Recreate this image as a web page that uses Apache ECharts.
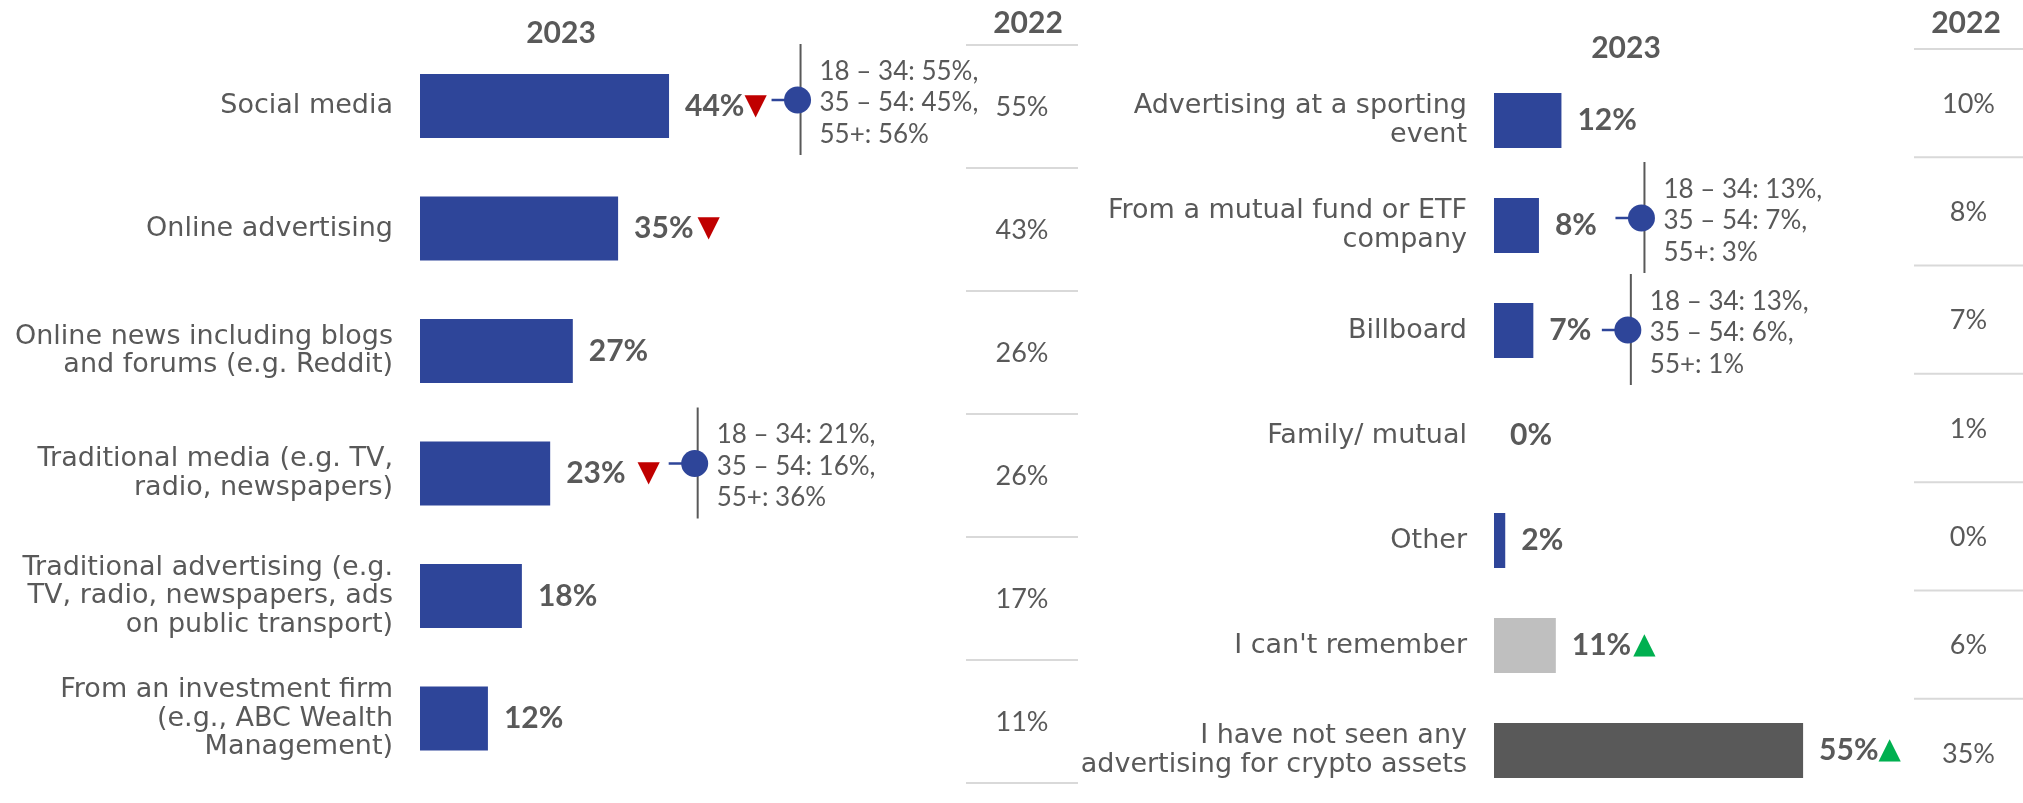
<html>

<head>
    <meta charset="utf-8">
    <title>Crypto advertising seen</title>
    <script src="https://cdn.jsdelivr.net/npm/echarts@6/dist/echarts.min.js"></script>
    <style>
        html, body { margin: 0; padding: 0; background: #fff; }
    </style>
</head>

<body>
    <div id="result" style="width:2023px;height:803px"></div>
    <script>
        // ---- data ----
        var leftCats = [
            'Social media',
            'Online advertising',
            'Online news including blogs\nand forums (e.g. Reddit)',
            'Traditional media (e.g. TV,\nradio, newspapers)',
            'Traditional advertising (e.g.\nTV, radio, newspapers, ads\non public transport)',
            'From an investment firm\n(e.g., ABC Wealth\nManagement)'
        ];
        var left2023 = [44, 35, 27, 23, 18, 12];
        var left2022 = [55, 43, 26, 26, 17, 11];
        var leftChange = ['down', 'down', '', 'down', '', ''];

        var rightCats = [
            'Advertising at a sporting\nevent',
            'From a mutual fund or ETF\ncompany',
            'Billboard',
            'Family/ mutual',
            'Other',
            "I can't remember",
            'I have not seen any\nadvertising for crypto assets'
        ];
        var right2023 = [12, 8, 7, 0, 2, 11, 55];
        var right2022 = [10, 8, 7, 1, 0, 6, 35];
        var rightChange = ['', '', '', '', '', 'up', 'up'];

        // age breakdowns (side 0 = left panel, 1 = right panel)
        var ageNotes = [
            { side: 0, row: 0, lines: ['18 – 34: 55%,', '35 – 54: 45%,', '55+: 56%'] },
            { side: 0, row: 3, lines: ['18 – 34: 21%,', '35 – 54: 16%,', '55+: 36%'] },
            { side: 1, row: 1, lines: ['18 – 34: 13%,', '35 – 54: 7%,', '55+: 3%'] },
            { side: 1, row: 2, lines: ['18 – 34: 13%,', '35 – 54: 6%,', '55+: 1%'] }
        ];

        // ---- styles / layout ----
        var BLUE = '#2E4599';
        var TXT = '#595959';
        var rightColors = [BLUE, BLUE, BLUE, BLUE, BLUE, '#BFBFBF', '#595959'];
        var leftTriGap = [0, 4, 0, 12, 0, 0];
        var rightTriGap = [0, 0, 0, 0, 0, 2, 0];
        // pixel offset of the dot from the bar end
        var noteOffset = [[128.5, -6], [144.5, -10], [102.5, -7.5], [94.5, -0.5]];

        function barLabel(changes, gaps) {
            var rich = {
                v: { fontFamily: 'Lato', fontWeight: 'bold', fontSize: 30, color: TXT }
            };
            changes.forEach(function (c, i) {
                if (c) {
                    rich['t' + i] = {
                        fontFamily: 'DejaVu Sans',
                        fontSize: 29,
                        color: c == 'down' ? '#C00000' : '#00B050',
                        padding: [0, 0, 0, gaps[i]]
                    };
                }
            });
            return {
                show: true,
                position: 'right',
                distance: 16,
                rich: rich,
                formatter: function (p) {
                    var s = '{v|' + p.value + '%}';
                    var c = changes[p.dataIndex];
                    if (c) s += '{t' + p.dataIndex + '|' + (c == 'down' ? '▼' : '▲') + '}';
                    return s;
                }
            };
        }

        function noteSeries(side) {
            var vals = side == 0 ? left2023 : right2023;
            var data = [];
            ageNotes.forEach(function (n, i) {
                if (n.side == side) data.push([vals[n.row], n.row, i]);
            });
            return {
                type: 'custom',
                xAxisIndex: side,
                yAxisIndex: side,
                silent: true,
                z: 5,
                data: data,
                renderItem: function (params, api) {
                    var idx = api.value(2);
                    var p = api.coord([api.value(0), api.value(1)]);
                    var cx = p[0] + noteOffset[idx][0];
                    var cy = p[1] + noteOffset[idx][1];
                    return {
                        type: 'group',
                        children: [{
                            type: 'line',
                            shape: { x1: cx + 3, y1: cy - 56, x2: cx + 3, y2: cy + 55 },
                            style: { stroke: TXT, lineWidth: 2 }
                        }, {
                            type: 'line',
                            shape: { x1: cx - 26, y1: cy, x2: cx, y2: cy },
                            style: { stroke: BLUE, lineWidth: 2.5 }
                        }, {
                            type: 'circle',
                            shape: { cx: cx, cy: cy, r: 13.5 },
                            style: { fill: BLUE }
                        }, {
                            type: 'text',
                            x: cx + 22,
                            y: cy + 3,
                            style: {
                                text: ageNotes[idx].lines.join('\n'),
                                fill: TXT,
                                fontFamily: 'Lato',
                                fontSize: 26,
                                lineHeight: 31.5,
                                align: 'left',
                                verticalAlign: 'middle'
                            }
                        }]
                    };
                }
            };
        }

        // 2022 column: value centred in each row, rule above each row
        function oldSeries(grid, vals, bottomRule) {
            return {
                type: 'custom',
                xAxisIndex: grid,
                yAxisIndex: grid,
                silent: true,
                data: vals.map(function (v, i) { return [0.5, i, v]; }),
                renderItem: function (params, api) {
                    var p = api.coord([api.value(0), api.value(1)]);
                    var band = api.size([0, 1])[1];
                    var x0 = params.coordSys.x;
                    var x1 = x0 + params.coordSys.width;
                    var kids = [{
                        type: 'line',
                        shape: { x1: x0, y1: p[1] - band / 2, x2: x1, y2: p[1] - band / 2 },
                        style: { stroke: '#D9D9D9', lineWidth: 2 }
                    }, {
                        type: 'text',
                        x: p[0],
                        y: p[1] + 1,
                        style: {
                            text: api.value(2) + '%',
                            fill: TXT,
                            fontFamily: 'Lato',
                            fontSize: 27,
                            align: 'center',
                            verticalAlign: 'middle'
                        }
                    }];
                    if (bottomRule && params.dataIndex == vals.length - 1) {
                        kids.push({
                            type: 'line',
                            shape: { x1: x0, y1: p[1] + band / 2, x2: x1, y2: p[1] + band / 2 },
                            style: { stroke: '#D9D9D9', lineWidth: 2 }
                        });
                    }
                    return { type: 'group', children: kids };
                }
            };
        }

        function catAxis(grid, cats, show) {
            return {
                type: 'category',
                gridIndex: grid,
                data: cats,
                inverse: true,
                axisLine: { show: false },
                axisTick: { show: false },
                splitLine: { show: false },
                axisLabel: {
                    show: show,
                    margin: 27,
                    color: TXT,
                    fontFamily: 'DejaVu Sans',
                    fontSize: 27,
                    lineHeight: 28.5,
                    align: 'right'
                }
            };
        }

        function valAxis(grid, max) {
            return {
                type: 'value',
                gridIndex: grid,
                min: 0,
                max: max,
                show: false,
                splitLine: { show: false }
            };
        }

        function header(x, y, text) {
            return {
                type: 'text',
                x: x,
                y: y,
                style: {
                    text: text,
                    fill: TXT,
                    fontFamily: 'Lato',
                    fontWeight: 'bold',
                    fontSize: 30,
                    align: 'center',
                    verticalAlign: 'middle'
                }
            };
        }

        var myChart = echarts.init(document.getElementById('result'));

        var option = {
            backgroundColor: '#fff',
            animation: false,
            grid: [
                { left: 420, top: 44.75, width: 566, height: 735, outerBoundsMode: 'none' },
                { left: 1494, top: 68, width: 337.2, height: 735, outerBoundsMode: 'none' },
                { left: 966, top: 45, width: 112, height: 738, outerBoundsMode: 'none' },
                { left: 1914, top: 49, width: 109, height: 758, outerBoundsMode: 'none' }
            ],
            xAxis: [valAxis(0, 100), valAxis(1, 60), valAxis(2, 1), valAxis(3, 1)],
            yAxis: [
                catAxis(0, leftCats, true),
                catAxis(1, rightCats, true),
                catAxis(2, left2022.map(function (v, i) { return 'r' + i; }), false),
                catAxis(3, right2022.map(function (v, i) { return 'r' + i; }), false)
            ],
            graphic: [
                header(561, 33, '2023'),
                header(1028, 23, '2022'),
                header(1626, 48, '2023'),
                header(1966, 23, '2022')
            ],
            series: [{
                type: 'bar',
                xAxisIndex: 0,
                yAxisIndex: 0,
                barWidth: 64,
                silent: true,
                itemStyle: { color: BLUE },
                data: left2023,
                label: barLabel(leftChange, leftTriGap)
            }, {
                type: 'bar',
                xAxisIndex: 1,
                yAxisIndex: 1,
                barWidth: 55,
                silent: true,
                data: right2023.map(function (v, i) {
                    return { value: v, itemStyle: { color: rightColors[i] } };
                }),
                label: barLabel(rightChange, rightTriGap)
            },
            noteSeries(0),
            noteSeries(1),
            oldSeries(2, left2022, true),
            oldSeries(3, right2022, false)
            ]
        };
        myChart.setOption(option);
    </script>
</body>

</html>
